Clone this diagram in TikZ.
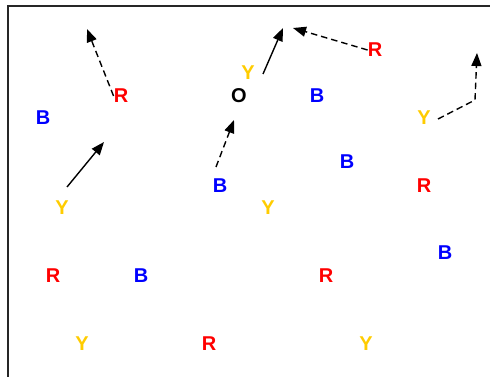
\documentclass[tikz,border=0pt]{standalone}
\usepackage{fontspec}
\setmainfont{Liberation Sans}
\usetikzlibrary{arrows.meta}
\definecolor{rcol}{RGB}{255,0,0}
\definecolor{bcol}{RGB}{0,0,255}
\definecolor{ycol}{RGB}{255,204,0}
\begin{document}
\begin{tikzpicture}[x=1pt,y=-1pt,
	lt/.style={font=\fontsize{20}{20}\selectfont\bfseries,inner sep=0pt},
	rr/.style={lt,text=rcol},
	bb/.style={lt,text=bcol},
	yy/.style={lt,text=ycol},
	mv/.style={line width=1.4pt,-{Triangle[length=13pt,width=10pt]}},
	mvd/.style={mv,dash pattern=on 6.5pt off 4pt}]
	\useasboundingbox (0,0) rectangle (490,377);
	\draw[line width=1.8pt,black!85] (490,6) -- (8,6) -- (8,377);
	% letters
	\node[rr] (r1) at (121,96) {R};
	\node[bb] (b1) at (43,118) {B};
	\node[yy] (y1) at (62,208) {Y};
	\node[yy] (y2) at (248,73) {Y};
	\node[lt] (o) at (239,96) {O};
	\node[bb] (b2) at (220,186) {B};
	\node[bb] (b3) at (317,96) {B};
	\node[rr] (r2) at (375,50) {R};
	\node[yy] (y3) at (424,118) {Y};
	\node[bb] (b4) at (347,162) {B};
	\node[rr] (r3) at (424,186) {R};
	\node[yy] (y4) at (268,208) {Y};
	\node[bb] (b5) at (445,253) {B};
	\node[rr] (r4) at (53,276) {R};
	\node[bb] (b6) at (141,276) {B};
	\node[rr] (r5) at (326,276) {R};
	\node[yy] (y5) at (82,344) {Y};
	\node[rr] (r6) at (209,344) {R};
	\node[yy] (y6) at (366,344) {Y};
	% moves
	\coordinate (y1s) at (67,187);
	\coordinate (y1t) at (104,142);
	\coordinate (r1t) at (87,29);
	\coordinate (y2s) at (263,74);
	\coordinate (y2t) at (283,28);
	\coordinate (b2s) at (216,167);
	\coordinate (b2t) at (234,120);
	\coordinate (r2t) at (293,28);
	\coordinate (y3s) at (438,119);
	\coordinate (y3m) at (475,100);
	\coordinate (y3t) at (477,53);
	\draw[mv] (y1s) -- (y1t);
	\draw[mvd] (r1.west) -- (r1t);
	\draw[mv] (y2s) -- (y2t);
	\draw[mvd] (b2s) -- (b2t);
	\draw[mvd] (r2.west) -- (r2t);
	\draw[mvd] (y3s) -- (y3m) -- (y3t);
\end{tikzpicture}
\end{document}
